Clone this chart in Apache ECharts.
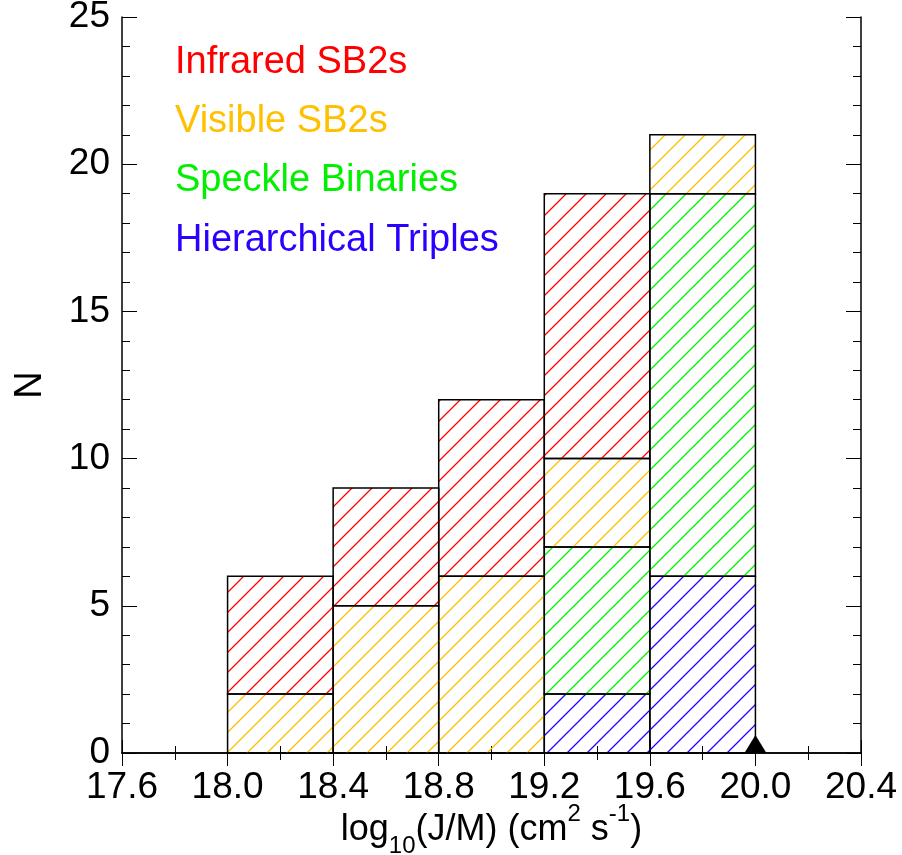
<!DOCTYPE html>
<html>
<head>
<meta charset="utf-8">
<script src="https://cdn.jsdelivr.net/npm/echarts@6/dist/echarts.min.js"></script>
<style>html,body{margin:0;padding:0;background:#fff;}#c{width:902px;height:855px;}</style>
</head>
<body>
<div id="c"></div>
<script>
// ---- data ----
var binStarts = [18.0, 18.4, 18.8, 19.2, 19.6];
var binWidth = 0.4;
var hierarchicalTriples = [0, 0, 0, 2, 6];
var speckleBinaries = [0, 0, 0, 5, 13];
var visibleSB2s = [2, 5, 6, 3, 2];
var infraredSB2s = [4, 4, 6, 9, 0];
var seriesNames = ['Hierarchical Triples', 'Speckle Binaries', 'Visible SB2s', 'Infrared SB2s'];
var seriesColors = ['#2a00ff', '#00f000', '#ffc000', '#ff0000'];
var markerX = [20.0];
var xTicks = [17.6, 18.0, 18.4, 18.8, 19.2, 19.6, 20.0, 20.4];
var yTicks = [0, 5, 10, 15, 20, 25];

var FONT = "'Liberation Sans', Arial, Helvetica, sans-serif";

function hatch(color) {
  var s = 20;
  var c = document.createElement('canvas');
  c.width = s; c.height = s;
  var g = c.getContext('2d');
  g.strokeStyle = color;
  g.lineWidth = 1.3;
  g.beginPath();
  g.moveTo(-2, s + 2); g.lineTo(s + 2, -2);
  g.moveTo(-2, 2); g.lineTo(2, -2);
  g.moveTo(s - 2, s + 2); g.lineTo(s + 2, s - 2);
  g.stroke();
  return { image: c, repeat: 'repeat' };
}

var stacks = [hierarchicalTriples, speckleBinaries, visibleSB2s, infraredSB2s];
var base = binStarts.map(function () { return 0; });
var series = [];
stacks.forEach(function (arr, si) {
  var data = [];
  arr.forEach(function (v, i) {
    if (v > 0) {
      data.push([binStarts[i], binStarts[i] + binWidth, base[i], base[i] + v]);
    }
    base[i] += v;
  });
  var pat = hatch(seriesColors[si]);
  series.push({
    type: 'custom',
    name: seriesNames[si],
    data: data,
    encode: { x: [0, 1], y: [2, 3] },
    renderItem: function (params, api) {
      var p0 = api.coord([api.value(0), api.value(2)]);
      var p1 = api.coord([api.value(1), api.value(3)]);
      return {
        type: 'rect',
        shape: { x: p0[0], y: p1[1], width: p1[0] - p0[0], height: p0[1] - p1[1] },
        style: { fill: pat, stroke: '#000', lineWidth: 1.5 }
      };
    },
    z: 2
  });
});

series.push({
  type: 'scatter',
  data: markerX.map(function (x) { return [x, 0]; }),
  symbol: 'triangle',
  symbolSize: [22, 18],
  symbolOffset: [0, '-50%'],
  itemStyle: { color: '#000', opacity: 1 },
  clip: false,
  z: 5
});

var axisLineStyle = { show: true, lineStyle: { color: '#000', width: 1.5 } };

var option = {
  animation: false,
  backgroundColor: '#fff',
  grid: { left: 122, right: 41, top: 17, bottom: 102, containLabel: false, outerBoundsMode: 'none' },
  xAxis: [{
    type: 'value', position: 'bottom',
    min: xTicks[0], max: xTicks[xTicks.length - 1], interval: 0.4,
    axisLine: axisLineStyle,
    axisTick: { show: true, inside: true, length: 13, lineStyle: { color: '#000', width: 1 } },
    minorTick: { show: true, splitNumber: 2, length: 7, lineStyle: { color: '#000', width: 1 } },
    splitLine: { show: false },
    axisLabel: { color: '#000', fontSize: 37, fontFamily: FONT, margin: 16,
      formatter: function (v) { return v.toFixed(1); } },
    name: 'log{sub|10}(J/M) (cm{sup|2} s{sup|-1})',
    nameLocation: 'middle', nameGap: 59, nameMoveOverlap: false,
    nameTextStyle: {
      color: '#000', fontSize: 36, fontFamily: FONT,
      rich: {
        sub: { fontSize: 24, fontFamily: FONT, color: '#000', verticalAlign: 'bottom', lineHeight: 18, padding: [0, 0, -10, 0] },
        sup: { fontSize: 24, fontFamily: FONT, color: '#000', verticalAlign: 'top', lineHeight: 18, padding: [-10, 0, 0, 0] }
      }
    }
  }, {
    type: 'value', position: 'top',
    min: xTicks[0], max: xTicks[xTicks.length - 1], interval: 0.4,
    axisLine: axisLineStyle,
    axisTick: { show: true, inside: true, length: 13, lineStyle: { color: '#000', width: 1 } },
    minorTick: { show: true, splitNumber: 2, length: 7, lineStyle: { color: '#000', width: 1 } },
    splitLine: { show: false },
    axisLabel: { show: false }
  }],
  yAxis: [{
    type: 'value', position: 'left',
    min: yTicks[0], max: yTicks[yTicks.length - 1], interval: 5,
    axisLine: axisLineStyle,
    axisTick: { show: true, inside: true, length: 15, lineStyle: { color: '#000', width: 1 } },
    minorTick: { show: true, splitNumber: 5, length: 8, lineStyle: { color: '#000', width: 1 } },
    splitLine: { show: false },
    axisLabel: { color: '#000', fontSize: 37, fontFamily: FONT, margin: 12 },
    name: 'N', nameLocation: 'middle', nameGap: 72, nameRotate: 90, nameMoveOverlap: false,
    nameTextStyle: { color: '#000', fontSize: 38, fontFamily: FONT }
  }, {
    type: 'value', position: 'right',
    min: yTicks[0], max: yTicks[yTicks.length - 1], interval: 5,
    axisLine: axisLineStyle,
    axisTick: { show: true, inside: true, length: 15, lineStyle: { color: '#000', width: 1 } },
    minorTick: { show: true, splitNumber: 5, length: 8, lineStyle: { color: '#000', width: 1 } },
    splitLine: { show: false },
    axisLabel: { show: false }
  }],
  graphic: [3, 2, 1, 0].map(function (si, k) {
    return {
      type: 'text', left: 175, top: [44, 103, 162, 222][k], z: 10,
      style: { text: seriesNames[si], fill: seriesColors[si], font: '38px ' + FONT }
    };
  }),
  series: series
};

var chart = echarts.init(document.getElementById('c'), null, { renderer: 'canvas' });
chart.setOption(option);
</script>
</body>
</html>
